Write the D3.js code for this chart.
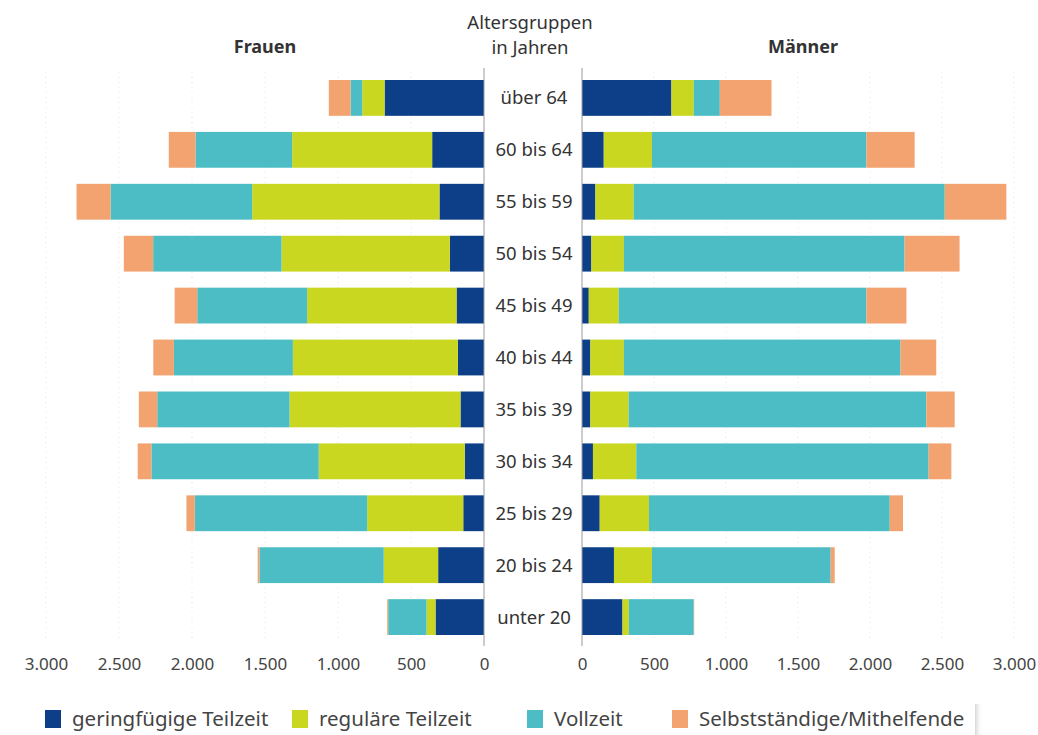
<!DOCTYPE html>
<html><head><meta charset="utf-8">
<script src="https://cdn.jsdelivr.net/npm/d3@7"></script>
<style>
html,body{margin:0;padding:0;background:#fff;}
svg{display:block;font-family:"Noto Sans","Open Sans",sans-serif;}
</style></head>
<body><svg id="c" width="1038" height="735"></svg>
<script>
const ages = ["über 64","60 bis 64","55 bis 59","50 bis 54","45 bis 49","40 bis 44","35 bis 39","30 bis 34","25 bis 29","20 bis 24","unter 20"];
const seriesNames = ["geringfügige Teilzeit","reguläre Teilzeit","Vollzeit","Selbstständige/Mithelfende"];
const colors = ["#0c3f88","#c9d720","#4cbdc4","#f2a36f"];
// Frauen
const womenGering = [681,355,305,234,188,179,161,132,142,314,332];
const womenRegulaer = [153,959,1283,1153,1023,1130,1171,1000,658,373,62];
const womenVoll = [80,662,970,879,753,815,906,1146,1181,851,262];
const womenSelbst = [149,183,233,201,155,141,126,94,57,12,7];
// Männer
const menGering = [621,151,93,65,47,58,58,76,123,222,281];
const menRegulaer = [155,335,266,226,208,233,266,301,342,264,44];
const menVoll = [181,1489,2160,1949,1720,1921,2067,2030,1672,1241,451];
const menSelbst = [359,335,428,382,278,248,197,158,92,28,3];
const tickValues = [0,500,1000,1500,2000,2500,3000];
const tickLabels = ["0","500","1.000","1.500","2.000","2.500","3.000"];

const svg = d3.select("#c");
const y = d3.scaleBand().domain(ages).range([80,635]).paddingInner(0.31).paddingOuter(0);
const xL = d3.scaleLinear().domain([0,3000]).range([484,46]);
const xR = d3.scaleLinear().domain([0,3000]).range([582,1014]);

function stackData(a,b,c,d){
  return ages.map((age,i)=>({age, s0:a[i], s1:b[i], s2:c[i], s3:d[i]}));
}
const stack = d3.stack().keys(["s0","s1","s2","s3"]);
const women = stack(stackData(womenGering,womenRegulaer,womenVoll,womenSelbst));
const men = stack(stackData(menGering,menRegulaer,menVoll,menSelbst));

// faint dotted gridlines
const grid = svg.append("g");
tickValues.slice(1).forEach(v=>{
  [xL(v), xR(v)].forEach(x=>{
    grid.append("line").attr("x1",x).attr("x2",x).attr("y1",72).attr("y2",640)
      .attr("stroke","#e4e4e4").attr("stroke-dasharray","1,4");
  });
});

// bars
women.forEach((layer,k)=>{
  svg.append("g").attr("fill",colors[k]).selectAll("rect").data(layer).join("rect")
    .attr("x",d=>xL(d[1])).attr("width",d=>xL(d[0])-xL(d[1]))
    .attr("y",d=>y(d.data.age)).attr("height",y.bandwidth());
});
men.forEach((layer,k)=>{
  svg.append("g").attr("fill",colors[k]).selectAll("rect").data(layer).join("rect")
    .attr("x",d=>xR(d[0])).attr("width",d=>xR(d[1])-xR(d[0]))
    .attr("y",d=>y(d.data.age)).attr("height",y.bandwidth());
});

// axis baselines
[484,582].forEach(x=>{
  svg.append("line").attr("x1",x).attr("x2",x).attr("y1",68).attr("y2",646)
    .attr("stroke","#9a9a9a").attr("stroke-width",1);
});

// x axes
const fmt = v => tickLabels[tickValues.indexOf(v)];
const axL = svg.append("g").attr("transform","translate(0,648)")
  .call(d3.axisBottom(xL).tickValues(tickValues).tickFormat(fmt).tickSize(0).tickPadding(10));
const axR = svg.append("g").attr("transform","translate(0,648)")
  .call(d3.axisBottom(xR).tickValues(tickValues).tickFormat(fmt).tickSize(0).tickPadding(10));
[axL,axR].forEach(a=>{
  a.select(".domain").remove();
  a.selectAll("text").attr("font-size",17).attr("fill","#444")
    .attr("font-family","'Noto Sans','Open Sans',sans-serif");
});

// age labels
svg.append("g").selectAll("text").data(ages).join("text")
  .attr("x",534).attr("y",d=>y(d)+y.bandwidth()/2).attr("dy","0.35em")
  .attr("text-anchor","middle").attr("font-size",18.5).attr("fill","#333").text(d=>d);

// headers
svg.append("text").attr("x",530).attr("y",29).attr("text-anchor","middle")
  .attr("font-size",18.5).attr("fill","#333").text("Altersgruppen");
svg.append("text").attr("x",530).attr("y",54).attr("text-anchor","middle")
  .attr("font-size",18.5).attr("fill","#333").text("in Jahren");
svg.append("text").attr("x",265).attr("y",53).attr("text-anchor","middle")
  .attr("font-size",18).attr("font-weight","bold").attr("fill","#333").text("Frauen");
svg.append("text").attr("x",803).attr("y",53).attr("text-anchor","middle")
  .attr("font-size",18).attr("font-weight","bold").attr("fill","#333").text("Männer");

// legend
const legX = [45,292,527,672];
const leg = svg.append("g");
seriesNames.forEach((n,i)=>{
  leg.append("rect").attr("x",legX[i]).attr("y",710).attr("width",16).attr("height",18).attr("fill",colors[i]);
  leg.append("text").attr("x",legX[i]+27).attr("y",719).attr("dy","0.35em")
    .attr("font-size",20.5).attr("fill","#444").text(n);
});
// subtle legend box shadow at right
const defs = svg.append("defs");
const g = defs.append("linearGradient").attr("id","sh").attr("x1","0").attr("x2","1");
g.append("stop").attr("offset","0").attr("stop-color","#ccc").attr("stop-opacity",0.8);
g.append("stop").attr("offset","1").attr("stop-color","#fff").attr("stop-opacity",0);
svg.append("rect").attr("x",975).attr("y",704).attr("width",8).attr("height",31).attr("fill","url(#sh)");
</script></body></html>
